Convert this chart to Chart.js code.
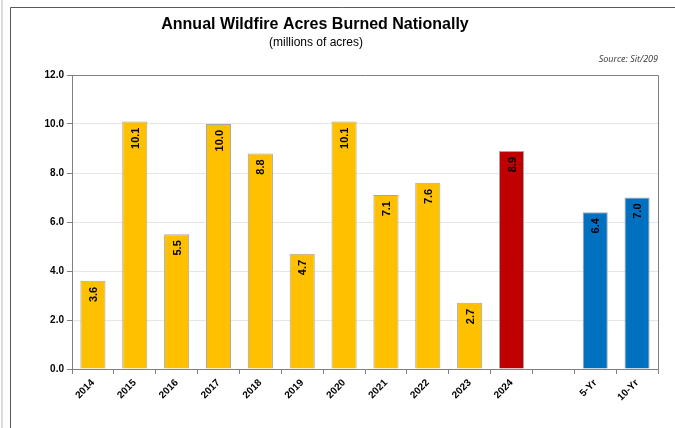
<!DOCTYPE html>
<html>
<head>
<meta charset="utf-8">
<script src="https://cdn.jsdelivr.net/npm/chart.js@4.4.1/dist/chart.umd.min.js"></script>
<style>
	html, body { margin: 0; padding: 0; background: #ffffff; }
	#contenedor { width: 675px; height: 428px; }
</style>
</head>
<body>
<div id="contenedor"><canvas id="myChart" width="675" height="428"></canvas></div>
<script>
//DATOS DE LA GRAFICA
const categorias = ['2014', '2015', '2016', '2017', '2018', '2019', '2020', '2021', '2022', '2023', '2024', '', '5-Yr', '10-Yr'];
const acres = [3.6, 10.1, 5.5, 10.0, 8.8, 4.7, 10.1, 7.1, 7.6, 2.7, 8.9, null, 6.4, 7.0];
const colores = ['#FFC000', '#FFC000', '#FFC000', '#FFC000', '#FFC000', '#FFC000', '#FFC000', '#FFC000', '#FFC000', '#FFC000', '#C00000', '#FFC000', '#0070C0', '#0070C0'];
const ticksY = [0, 2, 4, 6, 8, 10, 12];

const titulo = 'Annual Wildfire Acres Burned Nationally';
const subtitulo = '(millions of acres)';
const fuente = 'Source: Sit/209';

const ctx = document.getElementById('myChart');

//Plugin para el marco y los textos de arriba
const marco = {
	id: 'marco',
	beforeDraw(chart) {
		let c = chart.ctx;
		c.save();
		c.fillStyle = '#ffffff';
		c.fillRect(0, 0, chart.width, chart.height);
		//linea gris clara a la izquierda
		c.fillStyle = '#dcdcdc';
		c.fillRect(1, 0, 2, chart.height);
		//marco oscuro
		c.strokeStyle = '#595959';
		c.lineWidth = 1;
		c.beginPath();
		c.moveTo(10.5, chart.height);
		c.lineTo(10.5, 7.5);
		c.lineTo(chart.width, 7.5);
		c.stroke();
		//titulos
		c.fillStyle = '#000000';
		c.textAlign = 'center';
		c.textBaseline = 'alphabetic';
		c.font = "bold 16px 'Liberation Sans Narrow', 'Arial Narrow', 'Liberation Sans', sans-serif";
		c.fillText(titulo, 315, 29);
		c.font = "12px 'Liberation Sans Narrow', 'Arial Narrow', 'Liberation Sans', sans-serif";
		c.fillText(subtitulo, 316, 46);
		c.textAlign = 'right';
		c.font = "italic 9px 'Open Sans', 'Liberation Sans', sans-serif";
		c.fillStyle = '#333333';
		c.fillText(fuente, 658, 62);
		c.restore();
	},
	afterDatasetsDraw(chart) {
		let c = chart.ctx;
		let a = chart.chartArea;
		c.save();
		//borde del area de la grafica (arriba y derecha)
		c.strokeStyle = '#808080';
		c.lineWidth = 1;
		c.beginPath();
		c.moveTo(Math.round(a.left) + 0.5, Math.round(a.top) + 0.5);
		c.lineTo(Math.round(a.right) + 0.5, Math.round(a.top) + 0.5);
		c.lineTo(Math.round(a.right) + 0.5, Math.round(a.bottom) + 0.5);
		c.stroke();
		//etiquetas de valor giradas dentro de cada barra
		let meta = chart.getDatasetMeta(0);
		c.fillStyle = '#000000';
		c.font = "bold 11px 'Liberation Sans', Arial, sans-serif";
		c.textAlign = 'right';
		c.textBaseline = 'middle';
		meta.data.forEach(function (barra, i) {
			let v = acres[i];
			if (v === null) return;
			c.save();
			c.translate(barra.x + 1, barra.y + 6);
			c.rotate(-Math.PI / 2);
			c.fillText(v.toFixed(1), 0, 0);
			c.restore();
		});
		c.restore();
	}
};

const data = {
	labels: categorias,
	datasets: [
		{
			label: 'Acres',
			data: acres,
			backgroundColor: colores,
			borderColor: '#a6a6a6',
			borderWidth: 1,
			categoryPercentage: 1.0,
			barPercentage: 0.6
		}
	]
};

let grafica = new Chart(ctx, {
	type: 'bar',
	data: data,
	plugins: [marco],
	options: {
		responsive: false,
		animation: false,
		layout: { padding: { top: 75, right: 17, left: 0, bottom: 0 } },
		plugins: {
			legend: { display: false },
			title: { display: false },
			tooltip: { enabled: false }
		},
		scales: {
			x: {
				afterFit: function (scale) { scale.height = 59; },
				grid: {
					offset: true,
					drawOnChartArea: false,
					tickLength: 5,
					tickColor: '#808080'
				},
				border: { color: '#808080' },
				ticks: {
					autoSkip: false,
					maxRotation: 45,
					minRotation: 45,
					padding: 3,
					color: '#000000',
					font: { family: "'Liberation Sans', Arial, sans-serif", size: 10, weight: 'bold' }
				}
			},
			y: {
				min: 0,
				max: 12,
				afterFit: function (scale) { scale.width = 72; },
				afterBuildTicks: function (scale) {
					scale.ticks = ticksY.map(function (v) { return { value: v }; });
				},
				grid: {
					color: '#e6e6e6',
					tickLength: 5,
					tickColor: '#808080'
				},
				border: { color: '#808080' },
				ticks: {
					padding: 3,
					color: '#000000',
					font: { family: "'Liberation Sans', Arial, sans-serif", size: 10, weight: 'bold' },
					callback: function (v) { return v.toFixed(1); }
				}
			}
		}
	}
});
</script>
</body>
</html>
